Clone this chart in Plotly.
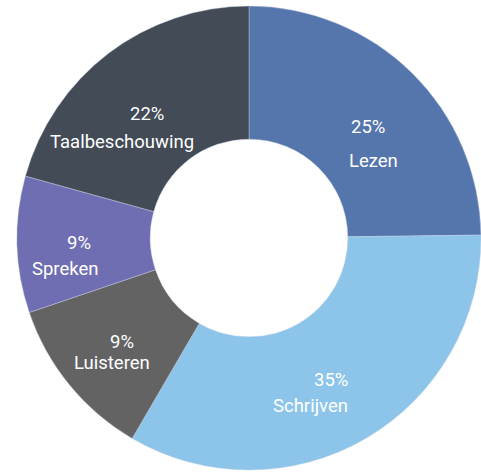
import plotly.graph_objects as go

# Data
categories = ["Lezen", "Schrijven", "Luisteren", "Spreken", "Taalbeschouwing"]
slice_shares = [24.8, 33.6, 11.4, 9.5, 20.7]      # angular share of each drawn slice
label_percent = [25, 35, 9, 9, 22]                  # percentages printed in the labels
colors = ["#5576ac", "#8dc5ea", "#636364", "#6f6eb2", "#424b56"]

W, H = 481, 472
cx, cy, R = 249, 238, 232

fig = go.Figure()
fig.add_trace(go.Pie(
    labels=categories,
    values=slice_shares,
    sort=False,
    direction="clockwise",
    rotation=0,
    hole=0.426,
    marker=dict(colors=colors, line=dict(color="rgba(200,210,225,0.7)", width=0.6)),
    textinfo="none",
    hoverinfo="label+percent",
    showlegend=False,
    domain=dict(x=[(cx - R) / W, (cx + R) / W], y=[(H - cy - R) / H, (H - cy + R) / H]),
))

# label placement (pixel centres of percentage line and name line)
pct_pos = [(368, 127), (331, 380), (122, 342), (79, 243), (147, 114)]
name_pos = [(373, 161), (310, 406), (112, 363), (65, 269), (122, 142)]

font = dict(family="Roboto", size=18.5, color="white")
annotations = []
for i, cat in enumerate(categories):
    px, py = pct_pos[i]
    nx, ny = name_pos[i]
    annotations.append(dict(text=f"{label_percent[i]}%", x=px / W, y=1 - py / H,
                            xref="paper", yref="paper", showarrow=False,
                            xanchor="center", yanchor="middle", font=font))
    annotations.append(dict(text=cat, x=nx / W, y=1 - ny / H,
                            xref="paper", yref="paper", showarrow=False,
                            xanchor="center", yanchor="middle", font=font))

fig.update_layout(
    width=W, height=H,
    margin=dict(l=0, r=0, t=0, b=0),
    paper_bgcolor="white",
    plot_bgcolor="white",
    annotations=annotations,
)

fig.write_html("out.html", config={"displayModeBar": False},
               post_script="document.body.style.margin='0';document.body.style.overflow='hidden';")
